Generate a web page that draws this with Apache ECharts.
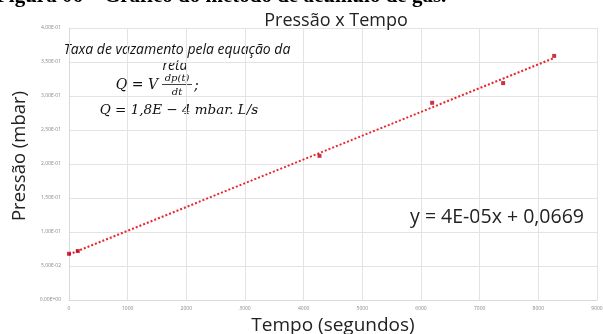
<!DOCTYPE html>
<html>
<head>
<meta charset="utf-8">
<script src="https://cdn.jsdelivr.net/npm/echarts@6/dist/echarts.min.js"></script>
<style>
  html, body { margin: 0; padding: 0; background: #fff; }
  #chart { width: 603px; height: 334px; }
</style>
</head>
<body>
<div id="chart"></div>
<script>
// leituras do gráfico
const tempo = [0, 150, 4270, 6190, 7400, 8270];
const pressao = [0.068, 0.072, 0.212, 0.29, 0.319, 0.359];
const equacaoTexto = "y = 4E-05x + 0,0669";

const fmtExp = (v) => {
  const [m, e] = Number(v).toExponential(2).split("e");
  const n = parseInt(e, 10);
  const sign = n < 0 ? "-" : "+";
  return m.replace(".", ",") + "E" + sign + String(Math.abs(n)).padStart(2, "0");
};

// linha de tendência por mínimos quadrados
const n = tempo.length;
const mx = tempo.reduce((a, b) => a + b, 0) / n;
const my = pressao.reduce((a, b) => a + b, 0) / n;
let sxy = 0, sxx = 0;
tempo.forEach((x, i) => {
  sxy += (x - mx) * (pressao[i] - my);
  sxx += (x - mx) * (x - mx);
});
const slope = sxy / sxx;
const intercept = my - slope * mx;
const xMax = Math.max(...tempo);
const trend = [[0, intercept], [xMax, intercept + slope * xMax]];

const font = "'Open Sans', 'Noto Sans', sans-serif";
const mathFont = "'DejaVu Serif', 'Liberation Serif', serif";

const chart = echarts.init(document.getElementById("chart"));
chart.setOption({
  animation: false,
  title: {
    text: "Pressão x Tempo",
    left: 331,
    textAlign: "center",
    top: 7,
    textStyle: { fontFamily: font, fontSize: 18, fontWeight: "normal", color: "#222" },
  },
  grid: { left: 69, right: 6, top: 28, bottom: 34, outerBoundsMode: "none", containLabel: false },
  xAxis: {
    type: "value",
    min: 0,
    max: 9000,
    interval: 1000,
    name: "Tempo (segundos)",
    nameLocation: "middle",
    nameGap: 12,
    nameTextStyle: { fontFamily: font, fontSize: 19, color: "#222" },
    axisLine: { show: true, lineStyle: { color: "#d9d9d9" } },
    axisTick: { show: false },
    axisLabel: { fontSize: 5, color: "#888", margin: 6, fontFamily: font, formatter: (v) => String(v) },
    splitLine: { show: true, lineStyle: { color: "#e3e3e3" } },
  },
  yAxis: {
    type: "value",
    min: 0,
    max: 0.4,
    interval: 0.05,
    name: "Pressão (mbar)",
    nameLocation: "middle",
    nameGap: 38,
    nameTextStyle: { fontFamily: font, fontSize: 18.5, color: "#222", padding: [0, 0, 0, 16] },
    axisLine: { show: true, lineStyle: { color: "#d9d9d9" } },
    axisTick: { show: false },
    axisLabel: { fontSize: 5, color: "#888", margin: 8, fontFamily: font, formatter: fmtExp },
    splitLine: { show: true, lineStyle: { color: "#e3e3e3" } },
  },
  series: [
    {
      name: "Tendência",
      type: "line",
      data: trend,
      symbol: "none",
      lineStyle: { color: "#e8272d", width: 2, type: [2, 2] },
      z: 2,
    },
    {
      name: "Pressão",
      type: "scatter",
      data: tempo.map((t, i) => [t, pressao[i]]),
      symbol: "rect",
      symbolSize: 4,
      itemStyle: { color: "#c0001a" },
      z: 3,
    },
  ],
  graphic: [
    {
      type: "text",
      left: -4,
      top: -14,
      style: {
        text: "Figura 06 – Gráfico do método de acúmulo de gás.",
        font: "bold 21px 'Liberation Serif', serif",
        fill: "#000",
      },
    },
    {
      type: "text",
      x: 177,
      y: 50,
      style: {
        text: "Taxa de vazamento pela equação da",
        font: "italic 14px " + font,
        fill: "#111",
        align: "center",
        verticalAlign: "middle",
      },
    },
    {
      type: "text",
      x: 175,
      y: 66,
      style: {
        text: "reta",
        font: "italic 14px " + font,
        fill: "#111",
        align: "center",
        verticalAlign: "middle",
      },
    },
    {
      type: "text",
      x: 158,
      y: 85,
      style: {
        text: "Q = V",
        font: "italic 14px " + mathFont,
        fill: "#111",
        align: "right",
        verticalAlign: "middle",
      },
    },
    {
      type: "text",
      x: 177,
      y: 78,
      style: {
        text: "dp(t)",
        font: "italic 10px " + mathFont,
        fill: "#111",
        align: "center",
        verticalAlign: "middle",
      },
    },
    {
      type: "line",
      shape: { x1: 162, y1: 84.5, x2: 192, y2: 84.5 },
      style: { stroke: "#111", lineWidth: 0.8 },
    },
    {
      type: "text",
      x: 177,
      y: 92,
      style: {
        text: "dt",
        font: "italic 10px " + mathFont,
        fill: "#111",
        align: "center",
        verticalAlign: "middle",
      },
    },
    {
      type: "text",
      x: 194,
      y: 86,
      style: {
        text: ";",
        font: "italic 14px " + mathFont,
        fill: "#111",
        verticalAlign: "middle",
      },
    },
    {
      type: "text",
      x: 179,
      y: 110,
      style: {
        text: "Q = 1,8E − 4 mbar. L/s",
        font: "italic 13.5px " + mathFont,
        fill: "#111",
        align: "center",
        verticalAlign: "middle",
      },
    },
    {
      type: "text",
      x: 497,
      y: 217,
      style: {
        text: equacaoTexto,
        font: "19.5px " + font,
        fill: "#222",
        align: "center",
        verticalAlign: "middle",
      },
    },
  ],
});
</script>
</body>
</html>
